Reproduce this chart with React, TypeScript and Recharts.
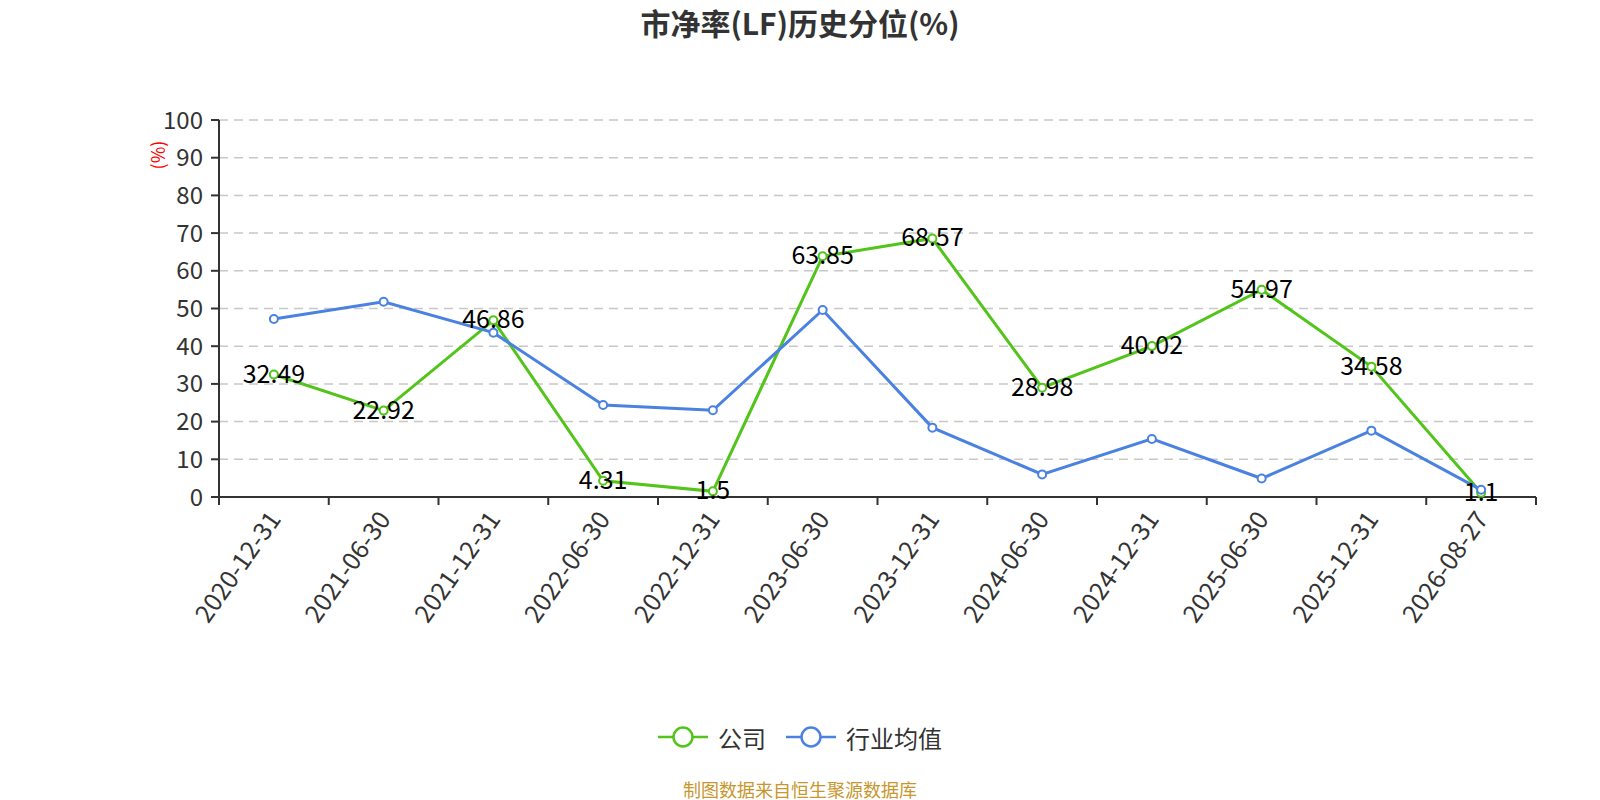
import { LineChart, Line, XAxis, YAxis, CartesianGrid, LabelList } from "recharts";

// ─── 数据 ─────────────────────────────────────────
const dates = [
  "2020-12-31", "2021-06-30", "2021-12-31", "2022-06-30", "2022-12-31", "2023-06-30",
  "2023-12-31", "2024-06-30", "2024-12-31", "2025-06-30", "2025-12-31", "2026-08-27",
];
const company = [32.49, 22.92, 46.86, 4.31, 1.5, 63.85, 68.57, 28.98, 40.02, 54.97, 34.58, 1.1];
const industry = [47.2, 51.8, 43.6, 24.4, 23.0, 49.6, 18.4, 6.0, 15.4, 4.9, 17.6, 1.9];
const yTicks = [0, 10, 20, 30, 40, 50, 60, 70, 80, 90, 100];

const rows = dates.map((d, i) => ({ date: d, company: company[i], industry: industry[i] }));

const W = 1600;
const H = 800;
const PLOT_LEFT = 219;
const PLOT_RIGHT = 1536;
const PLOT_TOP = 120;
const PLOT_BOTTOM = 497;
const Y_AXIS_W = 80;
const X_AXIS_H = 130;
const BAND = (PLOT_RIGHT - PLOT_LEFT) / dates.length;
const FONT = '"Noto Sans CJK SC", "Noto Sans", sans-serif';
const GREEN = "#52c41a";
const BLUE = "#4b82e2";

// 刻度线在类目边界，标签在中间
function DateTick(props: any) {
  const { x, y, payload, index } = props;
  const last = index === dates.length - 1;
  const ax = x - 1;
  const ay = y + 8;
  return (
    <g>
      <line x1={x - BAND / 2} x2={x - BAND / 2} y1={y - 8} y2={y} stroke="#333" strokeWidth={2} />
      {last && <line x1={x + BAND / 2} x2={x + BAND / 2} y1={y - 8} y2={y} stroke="#333" strokeWidth={2} />}
      <text
        x={ax}
        y={ay}
        transform={`rotate(-55, ${ax}, ${ay})`}
        textAnchor="end"
        dominantBaseline="central"
        fontSize={25}
        fill="#333"
        fontFamily={FONT}
      >
        {payload.value}
      </text>
    </g>
  );
}

function ValueLabel(props: any) {
  const { x, y, value } = props;
  return (
    <text x={x} y={y - 3} textAnchor="middle" dominantBaseline="central" fontSize={25} fill="#000" fontFamily={FONT}>
      {value}
    </text>
  );
}

function LegendBox() {
  const items = [
    { name: "公司", color: GREEN },
    { name: "行业均值", color: BLUE },
  ];
  return (
    <div
      style={{
        display: "flex", justifyContent: "center", alignItems: "center", height: 40, gap: 20,
        fontFamily: FONT, fontSize: 24, color: "#333",
      }}
    >
      {items.map((it) => (
        <div key={it.name} style={{ display: "flex", alignItems: "center", gap: 10 }}>
          <svg width={50} height={24}>
            <line x1={0} x2={50} y1={12} y2={12} stroke={it.color} strokeWidth={2.5} />
            <circle cx={25} cy={12} r={9.5} fill="#fff" stroke={it.color} strokeWidth={2.5} />
          </svg>
          <span>{it.name}</span>
        </div>
      ))}
    </div>
  );
}

export default function App() {
  return (
    <div style={{ position: "absolute", left: 0, top: 0, width: W, height: H, background: "#fff" }}>
      <div
        style={{
          position: "absolute", top: 0, left: 0, width: W, textAlign: "center", lineHeight: "44px",
          fontFamily: FONT, fontSize: 30, fontWeight: 700, color: "#333",
        }}
      >
        市净率(LF)历史分位(%)
      </div>
      <div
        style={{
          position: "absolute", left: 137, top: 143, width: 40, height: 24, lineHeight: "24px", textAlign: "center",
          transform: "rotate(-90deg)", fontFamily: FONT, fontSize: 18, color: "#f00",
        }}
      >
        (%)
      </div>
      <LineChart
        width={W}
        height={H}
        data={rows}
        style={{ position: "absolute", left: 0, top: 0 }}
        margin={{
          top: PLOT_TOP,
          right: W - PLOT_RIGHT,
          left: PLOT_LEFT - Y_AXIS_W,
          bottom: H - PLOT_BOTTOM - X_AXIS_H,
        }}
      >
        <CartesianGrid vertical={false} stroke="#c8c8c8" strokeWidth={1.5} strokeDasharray="9 6" />
        <XAxis
          dataKey="date"
          interval={0}
          padding={{ left: BAND / 2, right: BAND / 2 }}
          height={X_AXIS_H}
          tickLine={false}
          axisLine={{ stroke: "#333", strokeWidth: 2 }}
          tick={<DateTick />}
        />
        <YAxis
          type="number"
          domain={[0, 100]}
          ticks={yTicks}
          width={Y_AXIS_W}
          interval={0}
          axisLine={{ stroke: "#333", strokeWidth: 2 }}
          tickLine={{ stroke: "#333", strokeWidth: 2 }}
          tickSize={8}
          tickMargin={8}
          tick={{ fontSize: 24, fill: "#333", fontFamily: FONT }}
        />
        <Line
          dataKey="company"
          name="公司"
          stroke={GREEN}
          strokeWidth={3}
          dot={{ r: 4, fill: "#fff", stroke: GREEN, strokeWidth: 2 }}
          isAnimationActive={false}
        >
          <LabelList dataKey="company" content={<ValueLabel />} />
        </Line>
        <Line
          dataKey="industry"
          name="行业均值"
          stroke={BLUE}
          strokeWidth={3}
          dot={{ r: 4, fill: "#fff", stroke: BLUE, strokeWidth: 2 }}
          isAnimationActive={false}
        />
      </LineChart>
      <div style={{ position: "absolute", top: 717, left: 0, width: W }}>
        <LegendBox />
      </div>
      <div
        style={{
          position: "absolute", top: 777, left: 0, width: W, textAlign: "center", lineHeight: "24px",
          fontFamily: FONT, fontSize: 18, color: "#c8962e",
        }}
      >
        制图数据来自恒生聚源数据库
      </div>
    </div>
  );
}
